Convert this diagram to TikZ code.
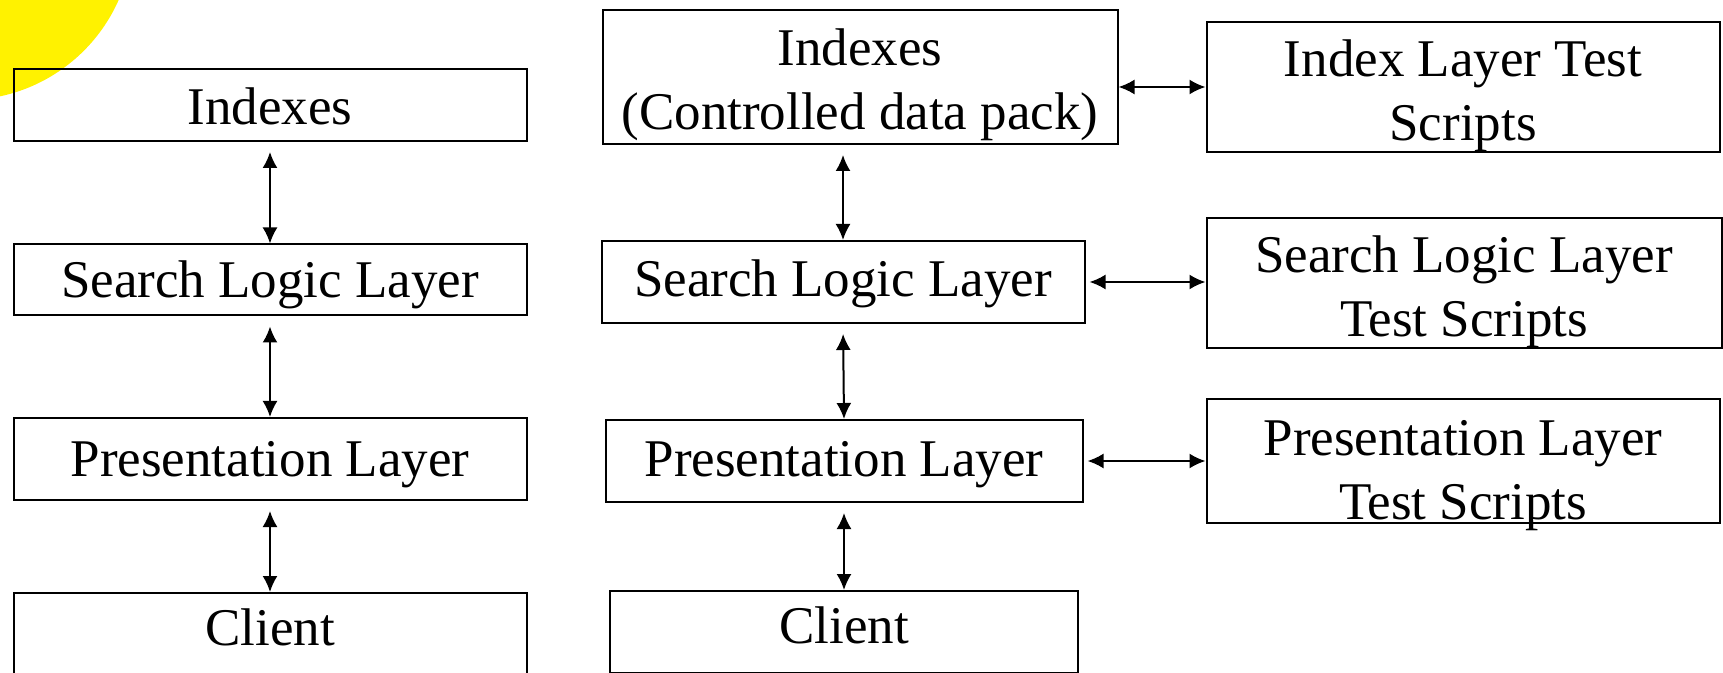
\documentclass[tikz,border=0pt]{standalone}
\usepackage{fontspec}
\setmainfont{Liberation Serif}
\usetikzlibrary{arrows.meta}
\newcommand\droptext[1]{\rule{0pt}{#1}}

\begin{document}
\begin{tikzpicture}[
  x=0.5pt, y=-0.5pt,
  layer/.style={draw, line width=1pt, align=center, inner sep=0pt,
                font=\fontsize{26.5}{32}\selectfont},
  oneline/.style={layer, text height=17.5pt, text depth=0pt},
  link/.style={line width=1pt, {Latex[length=8pt,width=7.5pt]}-{Latex[length=8pt,width=7.5pt]}}
]
\useasboundingbox (0,0) rectangle (1723,673);
\clip (0,0) rectangle (1723,673);
% slide decoration in the corner
\fill[yellow] (-35,-68) circle (168);

% left column
\node[oneline, minimum width=256.5pt, minimum height=36pt, text height=19.5pt] (idxL) at (270,105) {Indexes};
\node[oneline, minimum width=256.5pt, minimum height=35.5pt] (slL) at (270,280) {Search Logic Layer};
\node[oneline, minimum width=256.5pt, minimum height=41pt]   (prL) at (270,459) {Presentation Layer};
\node[oneline, minimum width=256.5pt, minimum height=41pt, text depth=6pt] (clL) at (270,634) {Client};

% middle column
\node[layer, minimum width=257.5pt, minimum height=67pt] (idxM) at (860,77) {\droptext{25.8pt}Indexes\\(Controlled data pack)};
\node[oneline, minimum width=241.5pt, minimum height=41pt, text depth=3pt] (slM) at (843,282) {Search Logic Layer};
\node[oneline, minimum width=238.5pt, minimum height=41pt, text depth=2pt] (prM) at (844,461) {Presentation Layer};
\node[oneline, minimum width=234pt,   minimum height=41pt, text depth=6pt] (clM) at (844,632) {Client};

% test scripts
\node[layer, minimum width=256.5pt, minimum height=65pt]   (idxT) at (1463,87)  {\droptext{27pt}Index Layer Test\\Scripts};
\node[layer, minimum width=257.5pt, minimum height=65pt]   (slT)  at (1464,283) {\droptext{27pt}Search Logic Layer\\Test Scripts};
\node[layer, minimum width=256.5pt, minimum height=61.5pt] (prT)  at (1463,461) {\droptext{26.6pt}Presentation Layer\\\smash{Test Scripts}};

% vertical links
\draw[link, shorten <=5pt] (idxL.south) -- (slL.north);
\draw[link, shorten <=5pt] (slL.south) -- (prL.north);
\draw[link, shorten <=5pt] (prL.south) -- (clL.north);
\draw[link, shorten <=5pt] (idxM.south -| slM.north) -- (slM.north);
\draw[link, shorten <=5pt] (slM.south) -- (prM.north);
\draw[link, shorten <=5pt] (prM.south) -- (clM.north);

% horizontal links
\draw[link] (idxM.east |- idxT.west) -- (idxT.west);
\draw[link, shorten <=2pt] (slM.east) -- (slM.east -| slT.west);
\draw[link, shorten <=2pt] (prM.east) -- (prT.west);
\end{tikzpicture}
\end{document}
